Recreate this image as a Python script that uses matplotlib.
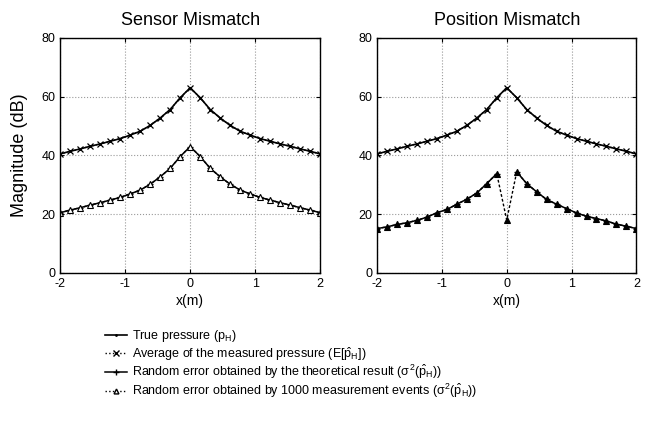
import numpy as np
import matplotlib
matplotlib.use("Agg")
import matplotlib.pyplot as plt
from matplotlib.lines import Line2D

# x positions (m), 27 points from -2 to 2
x = [-2.0, -1.846, -1.692, -1.538, -1.385, -1.231, -1.077, -0.923, -0.769, -0.615,
     -0.462, -0.308, -0.154, 0.0, 0.154, 0.308, 0.462, 0.615, 0.769, 0.923,
     1.077, 1.231, 1.385, 1.538, 1.692, 1.846, 2.0]

# Sensor mismatch (dB)
sensor_true = [40.5, 41.4, 42.2, 43.1, 43.9, 44.8, 45.7, 46.9, 48.2, 50.2,
               52.7, 55.6, 59.6, 63.0, 59.6, 55.6, 52.7, 50.2, 48.2, 46.9,
               45.7, 44.8, 43.9, 43.1, 42.2, 41.4, 40.5]
sensor_avg = sensor_true
sensor_theo = [20.5, 21.4, 22.2, 23.1, 23.9, 24.8, 25.7, 26.9, 28.2, 30.2,
               32.7, 35.6, 39.6, 43.0, 39.6, 35.6, 32.7, 30.2, 28.2, 26.9,
               25.7, 24.8, 23.9, 23.1, 22.2, 21.4, 20.5]
sensor_meas = sensor_theo

# Position mismatch (dB)
pos_true = sensor_true
pos_avg = sensor_true
pos_theo = [15.1, 15.7, 16.5, 17.1, 17.9, 19.0, 20.5, 21.6, 23.4, 25.1,
            27.2, 30.4, 33.8, np.nan, 34.4, 30.4, 27.6, 25.0, 23.4, 21.9,
            20.4, 19.3, 18.5, 17.7, 16.6, 15.9, 15.1]
pos_meas = [15.1, 15.7, 16.5, 17.1, 17.9, 19.0, 20.5, 21.6, 23.4, 25.1,
            27.2, 30.4, 33.8, 18.0, 34.4, 30.4, 27.6, 25.0, 23.4, 21.9,
            20.4, 19.3, 18.5, 17.7, 16.6, 15.9, 15.1]

titles = ["Sensor Mismatch", "Position Mismatch"]
labels = [r"True pressure (p$_{\mathregular{H}}$)",
          r"Average of the measured pressure (E[$\hat{\mathregular{p}}_{\mathregular{H}}$])",
          r"Random error obtained by the theoretical result ($\sigma^2(\hat{\mathregular{p}}_{\mathregular{H}})$)",
          r"Random error obtained by 1000 measurement events ($\sigma^2(\hat{\mathregular{p}}_{\mathregular{H}})$)"]

plt.rcParams['font.family'] = ['Liberation Sans', 'DejaVu Sans']
plt.rcParams['mathtext.fontset'] = 'custom'
plt.rcParams['mathtext.rm'] = 'Liberation Sans'
plt.rcParams['mathtext.it'] = 'Liberation Sans'
plt.rcParams['axes.unicode_minus'] = False

fig = plt.figure(figsize=(6.48, 4.34), dpi=100)
ax1 = fig.add_axes([0.093, 0.371, 0.401, 0.542])
ax2 = fig.add_axes([0.582, 0.371, 0.400, 0.542])

panels = [(ax1, sensor_true, sensor_avg, sensor_theo, sensor_meas),
          (ax2, pos_true, pos_avg, pos_theo, pos_meas)]

for i, (ax, tr, av, th, me) in enumerate(panels):
    ax.plot(x, tr, color='black', lw=1.2, marker='.', ms=2)
    ax.plot(x, av, color='black', lw=1.0, ls=':', marker='x', ms=5, mew=0.9)
    ax.plot(x, th, color='black', lw=1.1, marker='+', ms=5, mew=0.9)
    ax.plot(x, me, color='black', lw=1.0, ls=(0, (2, 1.5)), marker='^', ms=4.5,
            mfc='white' if i == 0 else 'black', mew=0.8)
    ax.set_xlim(-2, 2)
    ax.set_ylim(0, 80)
    ax.set_xticks([-2, -1, 0, 1, 2])
    ax.set_yticks([0, 20, 40, 60, 80])
    ax.grid(True, color='#999999', ls=':', lw=0.8)
    ax.tick_params(direction='in', top=True, right=True, labelsize=9, length=3)
    ax.set_title(titles[i], fontsize=13, pad=9)
    ax.set_xlabel("x(m)", fontsize=10, labelpad=3)
    for s in ax.spines.values():
        s.set_linewidth(1.0)

ax1.set_ylabel("Magnitude (dB)", fontsize=13, labelpad=10)

handles = [Line2D([], [], color='black', lw=1.2, marker='.', ms=2),
           Line2D([], [], color='black', lw=1.0, ls=':', marker='x', ms=4),
           Line2D([], [], color='black', lw=1.1, marker='+', ms=4),
           Line2D([], [], color='black', lw=1.0, ls=':', marker='^', ms=3.5, mfc='white')]
fig.legend(handles, labels, loc='upper left', bbox_to_anchor=(0.155, 0.255),
           frameon=False, fontsize=9, handlelength=1.7, handletextpad=0.45,
           labelspacing=0.05, borderaxespad=0)

fig.savefig("out.png", dpi=100)
